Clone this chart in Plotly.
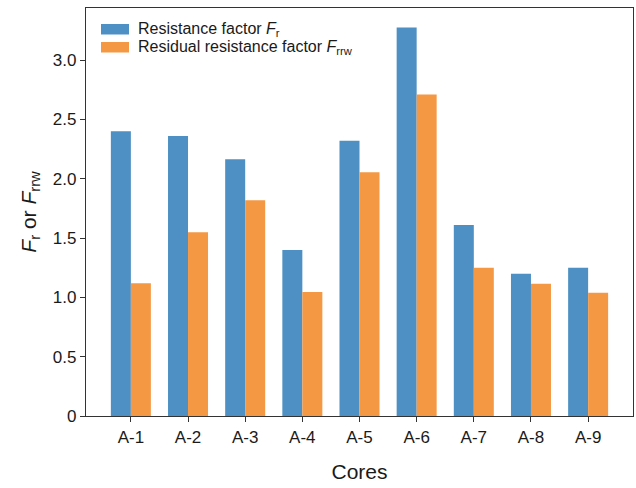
import plotly.graph_objects as go

cores = ["A-1", "A-2", "A-3", "A-4", "A-5", "A-6", "A-7", "A-8", "A-9"]
fr = [2.40, 2.36, 2.165, 1.40, 2.32, 3.275, 1.61, 1.20, 1.25]
frrw = [1.12, 1.55, 1.82, 1.045, 2.055, 2.71, 1.25, 1.115, 1.04]
ytick_vals = [0, 0.5, 1.0, 1.5, 2.0, 2.5, 3.0]
ytick_text = ["0", "0.5", "1.0", "1.5", "2.0", "2.5", "3.0"]
legend_labels = ["Resistance factor <i>F</i><sub>r</sub>",
                 "Residual resistance factor <i>F</i><sub>rrw</sub>"]

BLUE = "#4e90c4"
ORANGE = "#f59843"
FONT = "Arial, Liberation Sans, sans-serif"

W, H = 636, 488
L, R, T, B = 86, 3, 8, 72
pw, ph = W - L - R, H - T - B

fig = go.Figure()
fig.add_trace(go.Bar(x=cores, y=fr, marker_color=BLUE, marker_line_width=0,
                     name="Resistance factor Fr", showlegend=False))
fig.add_trace(go.Bar(x=cores, y=frrw, marker_color=ORANGE, marker_line_width=0,
                     name="Residual resistance factor Frrw", showlegend=False))

# manual legend (wide patches like the reference)
def px2paper(x, y):
    return (x - L) / pw, (H - B - y) / ph

for i, (col, lab) in enumerate(zip([BLUE, ORANGE], legend_labels)):
    y0 = 24 + i * 18
    x0p, y0p = px2paper(101, y0)
    x1p, y1p = px2paper(129, y0 + 10.5)
    fig.add_shape(type="rect", xref="paper", yref="paper", x0=x0p, x1=x1p,
                  y0=y1p, y1=y0p, fillcolor=col, line_width=0)
    tx, ty = px2paper(136, y0 + 5)
    fig.add_annotation(xref="paper", yref="paper", x=tx, y=ty, text=lab,
                       showarrow=False, xanchor="left", yanchor="middle",
                       font=dict(family=FONT, size=16, color="#1a1a1a"))

fig.update_layout(
    width=W, height=H,
    margin=dict(l=L, r=R, t=T, b=B),
    paper_bgcolor="white", plot_bgcolor="white",
    barmode="group", bargap=0.3, bargroupgap=0,
    font=dict(family=FONT, size=17, color="#1a1a1a"),
    showlegend=False,
)
fig.update_xaxes(
    range=[-0.785, 8.785],
    showline=True, linecolor="#333333", linewidth=1.2, mirror=True,
    ticks="outside", ticklen=5, tickcolor="#333333", tickwidth=1.2,
    tickfont=dict(size=17), showgrid=False,
    title=dict(text="Cores", font=dict(size=21), standoff=18),
)
fig.update_yaxes(
    range=[0, 3.44],
    tickvals=ytick_vals, ticktext=ytick_text,
    showline=True, linecolor="#333333", linewidth=1.2, mirror=True,
    ticks="outside", ticklen=5, tickcolor="#333333", tickwidth=1.2,
    tickfont=dict(size=17), showgrid=False, zeroline=False,
    title=dict(text="<i>F</i><sub>r</sub> or <i>F</i><sub>rrw</sub>",
               font=dict(size=21), standoff=10),
)

fig.write_html("out.html")
